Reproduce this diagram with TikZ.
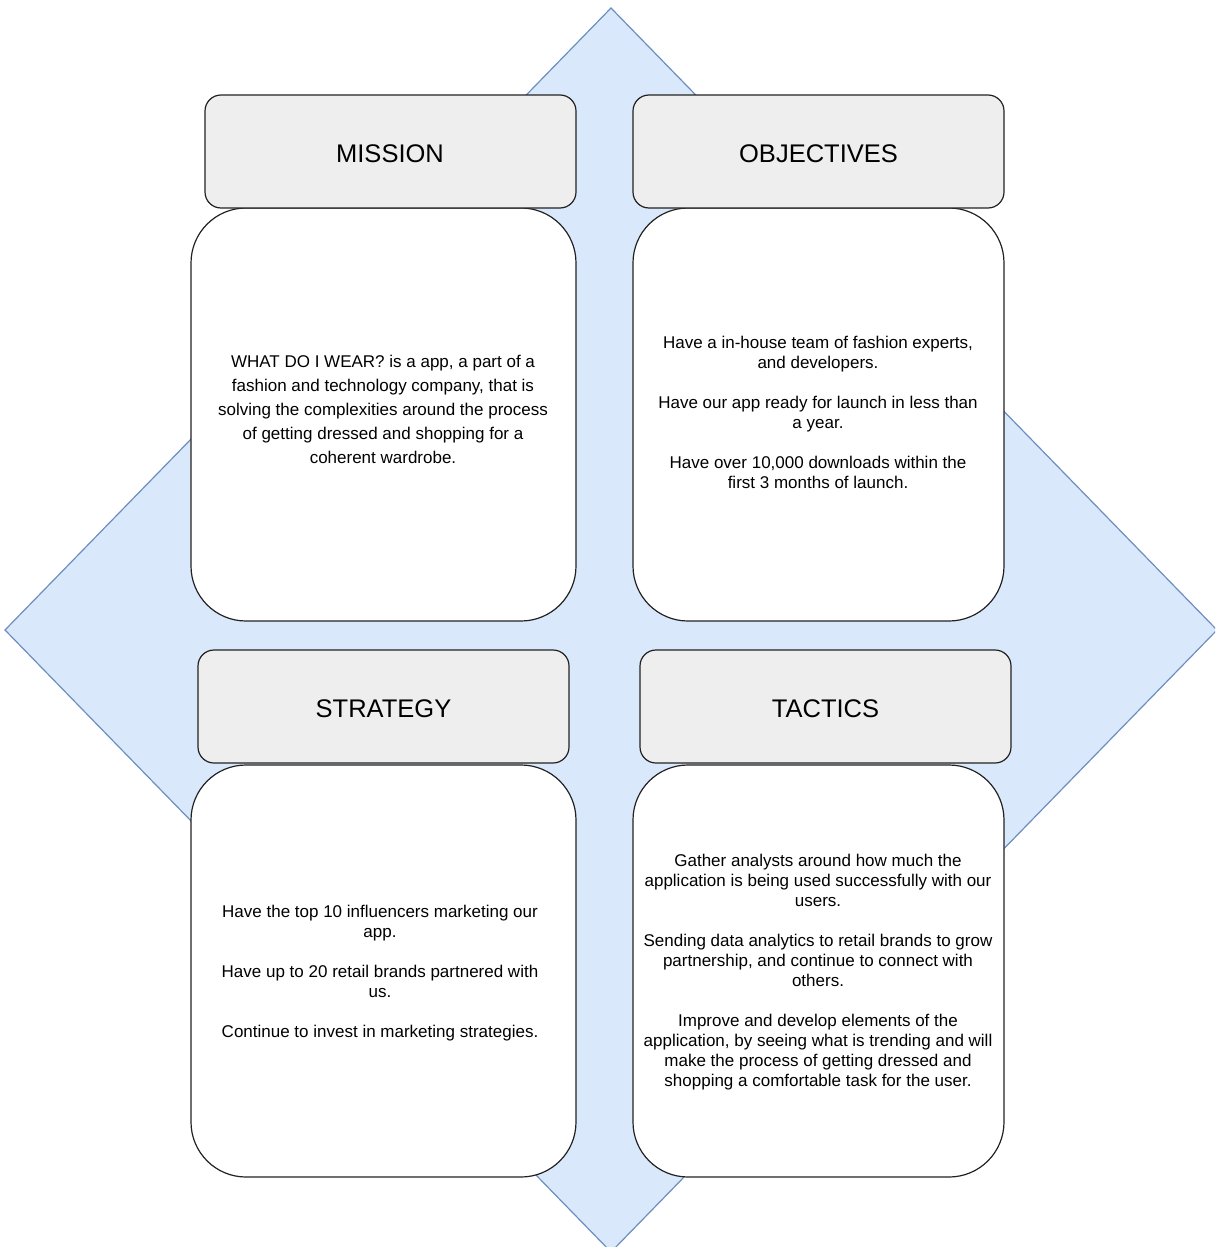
\documentclass[tikz,border=0pt]{standalone}
\usepackage{fontspec}
\setmainfont{Liberation Sans}
\definecolor{dfill}{HTML}{DAE8FC}
\definecolor{dline}{HTML}{6C8EBF}
\definecolor{hfill}{HTML}{EEEEEE}
\definecolor{bline}{HTML}{222222}
\begin{document}
\begin{tikzpicture}[x=1pt,y=-1pt,
  headbox/.style={draw=bline,line width=1.2pt,fill=hfill,rounded corners=16pt,minimum width=371pt,minimum height=113pt,inner sep=0pt},
  headtext/.style={inner sep=0pt,font=\fontsize{25.5}{28}\selectfont},
  bodybox/.style={draw=bline,line width=1.2pt,fill=white,rounded corners=55pt,inner sep=0pt},
  bodytext/.style={align=center,inner sep=0pt,font=\fontsize{17}{20}\selectfont}]
\useasboundingbox (0,0) rectangle (1215,1247);
\clip (0,0) rectangle (1215,1247);
\path[fill=dfill,draw=dline,line width=1.2pt] (611,8) -- (1217,630) -- (611,1252) -- (5,630) -- cycle;
% bodies
\node[bodybox,minimum width=385pt,minimum height=413pt] (mb) at (383.5,414.5) {};
\node[bodybox,minimum width=371pt,minimum height=413pt] (ob) at (818.5,414.5) {};
\node[bodybox,minimum width=385pt,minimum height=412pt] (sb) at (383.5,971) {};
\node[bodybox,minimum width=371pt,minimum height=412pt] (tb) at (818.5,971) {};
% headers
\node[headbox] (mh) at (390.5,151.5) {};
\node[headbox] (oh) at (818.5,151.5) {};
\node[headbox] (sh) at (383.5,706.5) {};
\node[headbox] (th) at (825.5,706.5) {};
\node[headtext] (mht) at (390,153.5) {MISSION};
\node[headtext] (oht) at (818.5,153.5) {OBJECTIVES};
\node[headtext] (sht) at (383.5,709) {STRATEGY};
\node[headtext] (tht) at (825.5,709) {TACTICS};
% texts
\node[bodytext,font=\fontsize{17}{24}\selectfont] (mt) at (383,409) {WHAT DO I WEAR? is a app, a part of a\\fashion and technology company, that is\\solving the complexities around the process\\of getting dressed and shopping for a\\coherent wardrobe.};
\node[bodytext] (ot) at (818,412) {Have a in-house team of fashion experts,\\and developers.\\[20pt]Have our app ready for launch in less than\\a year.\\[20pt]Have over 10,000 downloads within the\\first 3 months of launch.};
\node[bodytext] (st) at (380,973) {Have the top 10 influencers marketing our\\app.\\[20pt]Have up to 20 retail brands partnered with\\us.\\[20pt]Continue to invest in marketing strategies.};
\node[bodytext] (tt) at (818,972) {Gather analysts around how much the\\application is being used successfully with our\\users.\\[20pt]Sending data analytics to retail brands to grow\\partnership, and continue to connect with\\others.\\[20pt]Improve and develop elements of the\\application, by seeing what is trending and will\\make the process of getting dressed and\\shopping a comfortable task for the user.};
\end{tikzpicture}
\end{document}
